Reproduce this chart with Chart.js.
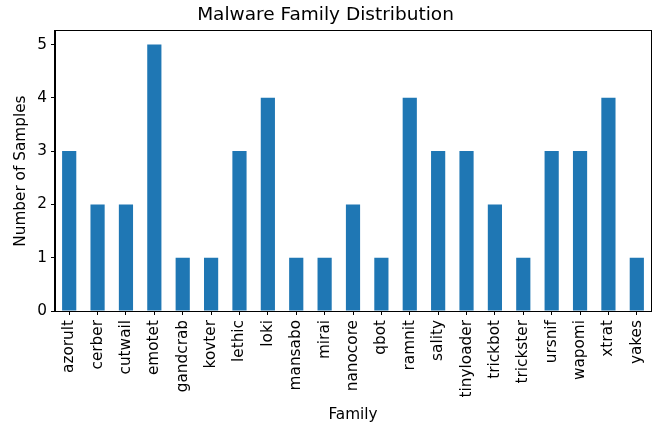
<!DOCTYPE html>
<html>
<head>
<meta charset="utf-8">
<script src="https://cdn.jsdelivr.net/npm/chart.js@4"></script>
<style>
  html, body { margin: 0; padding: 0; background: #fff; }
  #wrap { width: 654px; height: 425px; }
</style>
</head>
<body>
<div id="wrap"><canvas id="grafico"></canvas></div>
<script>
const familias = ['azorult', 'cerber', 'cutwail', 'emotet', 'gandcrab', 'kovter', 'lethic', 'loki',
  'mansabo', 'mirai', 'nanocore', 'qbot', 'ramnit', 'sality', 'tinyloader', 'trickbot',
  'trickster', 'ursnif', 'wapomi', 'xtrat', 'yakes'];
const amostras = [3, 2, 2, 5, 1, 1, 3, 4, 1, 1, 2, 1, 4, 3, 3, 2, 1, 3, 3, 4, 1];
const yTicks = [0, 1, 2, 3, 4, 5];

const fonte = 'DejaVu Sans';

// matplotlib style box around the plot area
const moldura = {
  id: 'moldura',
  afterDraw(chart) {
    const { ctx, chartArea: a } = chart;
    ctx.save();
    ctx.strokeStyle = '#000';
    ctx.lineWidth = 1;
    ctx.strokeRect(Math.round(a.left) - 0.5, Math.round(a.top) - 0.5,
      Math.round(a.right - a.left) + 1, Math.round(a.bottom - a.top) + 1);
    ctx.restore();
  }
};

new Chart(document.getElementById('grafico'), {
  type: 'bar',
  data: {
    labels: familias,
    datasets: [{
      label: 'Number of Samples',
      data: amostras,
      backgroundColor: '#1f77b4',
      barPercentage: 0.5,
      categoryPercentage: 1
    }]
  },
  options: {
    responsive: true,
    maintainAspectRatio: false,
    animation: false,
    layout: { padding: { left: 0, right: 3, top: 0, bottom: 0 } },
    plugins: {
      legend: { display: false },
      tooltip: { enabled: false },
      title: {
        display: true,
        text: 'Malware Family Distribution',
        color: '#000',
        font: { family: fonte, size: 18.5, weight: 'normal' },
        padding: { top: 4, bottom: 5 }
      }
    },
    scales: {
      x: {
        offset: true,
        grid: { offset: false, drawOnChartArea: false, drawTicks: true, tickLength: 4, color: '#000' },
        border: { display: true, color: '#000' },
        ticks: {
          color: '#000',
          font: { family: fonte, size: 15.3 },
          minRotation: 90,
          maxRotation: 90,
          padding: 5,
          autoSkip: false
        },
        title: {
          display: true,
          text: 'Family',
          color: '#000',
          font: { family: fonte, size: 15.3 },
          padding: { top: 0, bottom: 1 }
        },
        afterFit(scale) {
          scale.height = 114;
          scale.paddingLeft = 0;
          scale.paddingRight = 0;
        }
      },
      y: {
        min: 0,
        max: 5.25,
        grid: { drawOnChartArea: false, drawTicks: true, tickLength: 4, color: '#000' },
        border: { display: true, color: '#000' },
        afterBuildTicks(scale) {
          scale.ticks = yTicks.map(v => ({ value: v }));
        },
        ticks: {
          color: '#000',
          font: { family: fonte, size: 15.3 },
          padding: 4
        },
        title: {
          display: true,
          text: 'Number of Samples',
          color: '#000',
          font: { family: fonte, size: 15.3 },
          padding: { top: 12, bottom: 0 }
        },
        afterFit(scale) { scale.width = 55; }
      }
    }
  },
  plugins: [moldura]
});
</script>
</body>
</html>
